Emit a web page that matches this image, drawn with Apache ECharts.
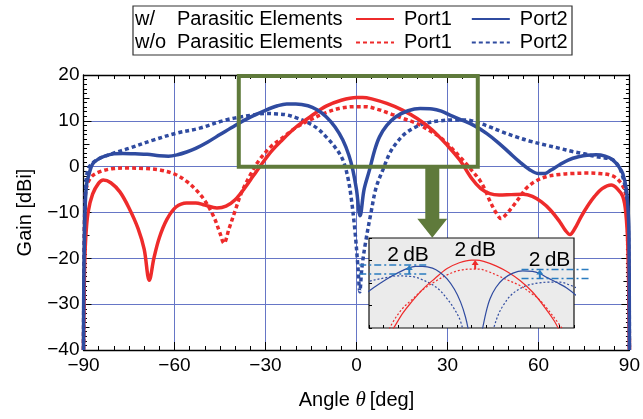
<!DOCTYPE html>
<html>
<head>
<meta charset="utf-8">
<script src="https://cdn.jsdelivr.net/npm/echarts/dist/echarts.min.js"></script>
<style>
  html, body { margin: 0; padding: 0; background: #fff; }
  #chart { width: 643px; height: 419px; }
</style>
</head>
<body>
<div id="chart"></div>
<script>
// gain patterns [angle deg, gain dBi]
var wPort1 = [[-90,-40],[-89.7,-24],[-89.3,-16],[-88.5,-10],[-87,-6],[-85,-3.6],[-83.5,-2.9],[-81,-3.5],[-78,-5.5],[-75,-9],[-72,-13.5],[-70,-18],[-68.3,-24.8],[-66.8,-20],[-65,-15.5],[-62.5,-11.5],[-59.5,-8.8],[-56,-7.9],[-53,-7.9],[-50,-8.4],[-46,-9],[-43,-8.6],[-40,-7.2],[-37,-4.8],[-34,-2],[-31,0.8],[-28,3.4],[-25,5.5],[-20,8.6],[-15,11],[-10,13.2],[-5,14.5],[0,15.1],[2,15.1],[5,14.8],[10,13.8],[15,12.4],[20,10.5],[25,8],[30,4.6],[34,1.5],[38,-2.6],[41,-4.8],[44,-5.9],[47,-6.2],[51,-6.1],[55,-6],[58,-6.5],[61,-7.7],[64,-9.5],[67,-12],[69,-14],[70.4,-14.8],[72,-13.5],[74,-11],[76,-8.8],[78.5,-6.5],[81,-4.8],[84,-4],[86,-4.8],[87.8,-6.5],[88.8,-10],[89.5,-18],[90,-40]]
var woPort1 = [[-90,-40],[-89.8,-20],[-89.5,-8],[-89,-4.5],[-87.5,-2.3],[-85,-1.2],[-80,-0.4],[-75,-0.3],[-70,-0.4],[-65,-0.7],[-60,-1.6],[-56,-3.2],[-53,-5],[-50,-7.4],[-47,-11],[-45,-14.5],[-43.7,-16.7],[-42,-13.5],[-40,-9.6],[-38,-5.8],[-35,-1.8],[-32,1.5],[-28,4.5],[-25,6],[-20,8.5],[-15,10.3],[-10,11.8],[-5,12.8],[0,13.1],[3,13.1],[7,12.5],[11,11.6],[15,10.6],[20,9.4],[25,7.5],[28,6.2],[31,4.3],[35,1.5],[38,-0.8],[40.6,-2.9],[42.5,-5.2],[44,-7.5],[46,-10],[47.7,-11.3],[49.5,-10.3],[51.5,-8.7],[54,-6.5],[56,-4.7],[59,-3.2],[62.5,-2.2],[67,-1.7],[71,-1.5],[76,-1.4],[80,-1.5],[84,-1.9],[86.5,-3],[88.5,-5.3],[89.4,-10],[90,-40]]
var wPort2 = [[-90,-40],[-89.9,-25],[-89.5,-10],[-89,-4],[-88,-1.2],[-87,0.6],[-85,1.7],[-83,2.3],[-80,2.8],[-77,2.9],[-73,2.8],[-69,2.7],[-65,2.4],[-62,2.3],[-59,2.6],[-56,3.2],[-53,4],[-49,5.4],[-45,7],[-40,9],[-35,10.8],[-30,12.3],[-26,13.3],[-23,13.7],[-20,13.7],[-16,13.3],[-13,12.4],[-10,10.9],[-7,8.6],[-4.5,5.8],[-2.5,2.5],[-1.2,-0.7],[0,-5],[1.2,-10.7],[2.5,-5],[4.3,-0.7],[6,3.6],[7.6,6.5],[10,9],[13,10.9],[17,12.2],[21,12.7],[25,12.6],[28,12.1],[31,11.2],[35,10.1],[39,8.9],[43,7.2],[47,5.1],[50.5,3],[53.7,1.1],[57,-0.6],[60,-1.5],[62,-1.5],[64,-0.8],[67,0.4],[70,1.5],[73.5,2.2],[76,2.5],[79,2.6],[82,2.3],[84.5,1.5],[86.5,0],[87.8,-1.5],[89,-5],[89.6,-10],[89.85,-15],[90,-40]]
var woPort2 = [[-90,-40],[-89.8,-20],[-89.4,-6],[-88.6,-0.7],[-87,0.8],[-84.7,1.8],[-80.3,2.9],[-75,4],[-67,5.8],[-59.4,7.3],[-51.7,8.4],[-43,10.2],[-34,11.3],[-30,11.6],[-26,11.5],[-23,11.3],[-20,10.7],[-16.6,9.8],[-13,8.4],[-10,6.5],[-7,4.2],[-4.5,1.5],[-2.8,-2.5],[-1.7,-7],[-0.5,-14],[0.5,-22],[1.1,-27.3],[1.8,-22],[3,-16.5],[4.8,-10],[6.5,-4.5],[8.7,-0.7],[11,3],[13.1,5.1],[16,7.2],[19.7,8.7],[23,9.5],[27.4,10],[32,10.2],[36.2,10.2],[40,9.6],[43.9,8.7],[48,7.6],[52.7,6.5],[57,5.6],[62.5,4.7],[67,4],[71.3,3.3],[75,2.8],[79,2.2],[82,1.9],[84.5,1.5],[86.5,0],[87.8,-2.2],[89,-6],[89.7,-15],[90,-40]]

// zoomed region marked on the main plot, and the arrow down to the inset
var zoomBoxX = [-38.8, 40]
var zoomBoxY = [0, 19.8]
var arrowX = 25
var arrowY = [0, -15.5]

// 2 dB annotations in the inset: [line x from, line x to, arrow x, low dB, high dB, text x]
var gainSteps = [
  [-46, -18, -25.5, 12, 14, -26],
  [null, null, 1.5, 13.1, 15.1, 1.5],
  [20.5, 49, 28, 11, 13, 32]
]

var RED = '#ee2b2b'
var BLUE = '#2f4ba0'
var GREEN = '#5f7a3b'
var NOTE = '#2b7cc0'
var FONT = 'Liberation Sans, Arial, sans-serif'

var chart = echarts.init(document.getElementById('chart'))

function mainSeries (name, data, color, dotted) {
  return {
    name: name,
    type: 'line',
    xAxisIndex: 0,
    yAxisIndex: 0,
    data: data,
    smooth: 0.35,
    symbol: 'none',
    clip: true,
    lineStyle: { color: color, width: 3.5, type: dotted ? [4, 3] : 'solid' },
    itemStyle: { color: color },
    z: 3
  }
}
function insetSeries (name, data, color, dotted) {
  return {
    name: name,
    type: 'line',
    xAxisIndex: 2,
    yAxisIndex: 4,
    data: data,
    smooth: 0.35,
    symbol: 'none',
    clip: true,
    silent: true,
    lineStyle: { color: color, width: 1.2, type: dotted ? [2, 2] : 'solid' },
    z: 12
  }
}

var minus = function (v) { return String(v).replace('-', '\u2212') }

var frameLine = { show: true, onZero: false, lineStyle: { color: '#000', width: 1.3 } }
var noLine = { show: false, onZero: false }
var majorTick = { show: true, inside: true, length: 8, lineStyle: { color: '#000' } }

function legendRow (names, top) {
  return {
    data: names,
    left: 355, top: top, padding: 0,
    itemWidth: 38, itemHeight: 14, itemGap: 19,
    selectedMode: false,
    formatter: function (n) { return n.split(' ')[1] },
    lineStyle: { width: 2 },
    itemStyle: { opacity: 0, color: 'rgba(0,0,0,0)', borderWidth: 0 },
    textStyle: { fontSize: 20, color: '#000', padding: [0, 0, 0, 5] }
  }
}

chart.setOption({
  animation: false,
  textStyle: { fontFamily: FONT },
  grid: [
    { left: 83.5, top: 75, width: 548, height: 275 },
    { left: 369, top: 238, width: 205, height: 90 }
  ],
  legend: [
    legendRow(['w/ Port1', 'w/ Port2'], 9),
    legendRow(['w/o Port1', 'w/o Port2'], 32.5)
  ],
  xAxis: [
    {
      gridIndex: 0, type: 'value', min: -90, max: 90, interval: 30, position: 'bottom',
      axisLine: frameLine,
      axisTick: majorTick,
      minorTick: { show: true, splitNumber: 6, length: 4, lineStyle: { color: '#000' } },
      splitLine: { show: true, lineStyle: { color: '#6676c6', width: 1 } },
      axisLabel: { fontSize: 19, color: '#000', margin: 6, formatter: minus },
      name: 'Angle {t|θ}\u2009[deg]',
      nameLocation: 'middle',
      nameGap: 40,
      nameTextStyle: {
        fontSize: 20, color: '#000',
        rich: { t: { fontSize: 21, fontStyle: 'italic', fontFamily: 'Liberation Serif, serif', color: '#000' } }
      }
    },
    {
      gridIndex: 0, type: 'value', min: -90, max: 90, interval: 30, position: 'top',
      axisLine: frameLine,
      axisTick: majorTick,
      minorTick: { show: true, splitNumber: 6, length: 4, lineStyle: { color: '#000' } },
      splitLine: { show: false },
      axisLabel: { show: false }
    },
    {
      gridIndex: 1, type: 'value', min: -42, max: 42, interval: 6, position: 'bottom',
      axisLine: noLine,
      axisTick: { show: true, inside: true, length: 3, lineStyle: { color: '#000' } },
      splitLine: { show: false },
      axisLabel: { show: false },
      z: 12
    }
  ],
  yAxis: [
    {
      gridIndex: 0, type: 'value', min: -40, max: 20, interval: 10, position: 'left',
      axisLine: frameLine,
      axisTick: majorTick,
      minorTick: { show: true, splitNumber: 10, length: 3.5, lineStyle: { color: '#000' } },
      splitLine: { show: true, lineStyle: { color: '#6676c6', width: 1 } },
      axisLabel: { fontSize: 19, color: '#000', margin: 4, formatter: minus },
      name: 'Gain [dBi]',
      nameLocation: 'middle',
      nameGap: 48,
      nameTextStyle: { fontSize: 20, color: '#000' }
    },
    {
      gridIndex: 0, type: 'value', min: -40, max: 20, interval: 10, position: 'right',
      axisLine: frameLine,
      axisTick: majorTick,
      minorTick: { show: true, splitNumber: 10, length: 3.5, lineStyle: { color: '#000' } },
      splitLine: { show: false },
      axisLabel: { show: false }
    },
    {
      gridIndex: 0, type: 'value', min: -40, max: 20, interval: 5, position: 'left',
      axisLine: noLine,
      axisTick: { show: true, inside: true, length: 6, lineStyle: { color: '#000' } },
      splitLine: { show: false },
      axisLabel: { show: false }
    },
    {
      gridIndex: 0, type: 'value', min: -40, max: 20, interval: 5, position: 'right',
      axisLine: noLine,
      axisTick: { show: true, inside: true, length: 6, lineStyle: { color: '#000' } },
      splitLine: { show: false },
      axisLabel: { show: false }
    },
    {
      gridIndex: 1, type: 'value', min: 0, max: 20, interval: 5, position: 'left',
      axisLine: noLine,
      axisTick: { show: true, inside: true, length: 3, lineStyle: { color: '#000' } },
      splitLine: { show: false },
      axisLabel: { show: false },
      z: 12
    }
  ],
  series: [
    mainSeries('w/o Port1', woPort1, RED, true),
    mainSeries('w/o Port2', woPort2, BLUE, true),
    mainSeries('w/ Port1', wPort1, RED, false),
    mainSeries('w/ Port2', wPort2, BLUE, false),
    insetSeries('inset w/o Port1', woPort1, RED, true),
    insetSeries('inset w/o Port2', woPort2, BLUE, true),
    insetSeries('inset w/ Port1', wPort1, RED, false),
    insetSeries('inset w/ Port2', wPort2, BLUE, false)
  ]
})

// overlays placed through the axes' own scales
function pm (x, y) { return chart.convertToPixel({ xAxisIndex: 0, yAxisIndex: 0 }, [x, y]) }
function pi (x, y) { return chart.convertToPixel({ xAxisIndex: 2, yAxisIndex: 4 }, [x, y]) }

var g = []

// legend frame and row labels
g.push({ type: 'rect', shape: { x: 133, y: 6, width: 439, height: 49 }, style: { fill: '#fff', stroke: '#333', lineWidth: 1.2 }, z: -1 })
;[['w/', 19], ['w/o', 42.5]].forEach(function (r) {
  g.push({ type: 'text', style: { text: r[0], x: 135, y: r[1], font: '20px ' + FONT, fill: '#000', verticalAlign: 'middle' }, z: 20 })
  g.push({ type: 'text', style: { text: 'Parasitic Elements', x: 177, y: r[1], font: '20px ' + FONT, fill: '#000', verticalAlign: 'middle' }, z: 20 })
})

// green zoom box
var b1 = pm(zoomBoxX[0], zoomBoxY[1])
var b2 = pm(zoomBoxX[1], zoomBoxY[0])
g.push({ type: 'rect', shape: { x: b1[0], y: b1[1], width: b2[0] - b1[0], height: b2[1] - b1[1] }, style: { fill: 'none', stroke: GREEN, lineWidth: 4 }, z: 20 })

// green arrow
var a0 = pm(arrowX, arrowY[0])
var a1 = pm(arrowX, arrowY[1])
var cx = a0[0]
var hy = a1[1] - 19
g.push({
  type: 'polygon',
  shape: { points: [[cx - 7, a0[1]], [cx + 7, a0[1]], [cx + 7, hy], [cx + 15, hy], [cx, a1[1]], [cx - 15, hy], [cx - 7, hy]] },
  style: { fill: GREEN },
  z: 20
})

// inset panel
var i1 = pi(-42, 20)
var i2 = pi(42, 0)
g.push({ type: 'rect', shape: { x: i1[0], y: i1[1], width: i2[0] - i1[0], height: i2[1] - i1[1] }, style: { fill: '#ebebeb', stroke: '#111', lineWidth: 1.2 }, z: 8 })

// 2 dB steps
gainSteps.forEach(function (s, k) {
  var col = k === 1 ? RED : NOTE
  if (s[0] !== null) {
    ;[s[3], s[4]].forEach(function (lv) {
      var l1 = pi(s[0], lv)
      var l2 = pi(s[1], lv)
      g.push({ type: 'line', shape: { x1: l1[0], y1: l1[1], x2: l2[0], y2: l2[1] }, style: { stroke: NOTE, lineWidth: 1.5, lineDash: [7, 3, 2, 3] }, z: 14 })
    })
  }
  var lo = pi(s[2], s[3])
  var hi = pi(s[2], s[4])
  g.push({ type: 'line', shape: { x1: lo[0], y1: lo[1], x2: hi[0], y2: hi[1] + 3 }, style: { stroke: col, lineWidth: 2 }, z: 15 })
  g.push({ type: 'polygon', shape: { points: [[hi[0] - 3.5, hi[1] + 5], [hi[0] + 3.5, hi[1] + 5], [hi[0], hi[1]]] }, style: { fill: col }, z: 15 })
  var t = pi(s[5], s[4])
  g.push({ type: 'text', style: { text: '2\u2009dB', x: t[0], y: t[1] + 1, font: '21px ' + FONT, fill: '#000', align: 'center', verticalAlign: 'bottom' }, z: 16 })
})

chart.setOption({ graphic: g })
</script>
</body>
</html>
